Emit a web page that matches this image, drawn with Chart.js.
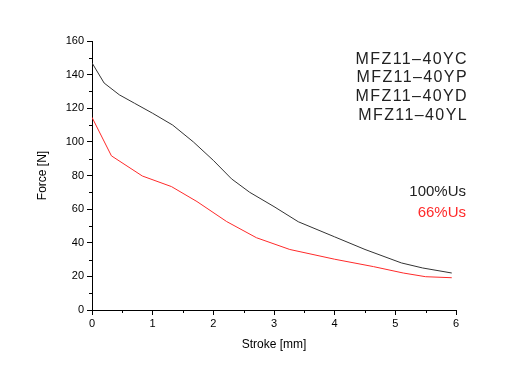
<!DOCTYPE html>
<html><head><meta charset="utf-8">
<script src="https://cdn.jsdelivr.net/npm/chart.js@4"></script>
<style>html,body{margin:0;padding:0;background:#fff}#wrap{width:518px;height:373px}</style>
</head><body><div id="wrap"><canvas id="c" width="518" height="373"></canvas></div>
<script>
const strokeFull = [0, 0.2, 0.45, 0.7, 1.0, 1.33, 1.67, 2.0, 2.3, 2.6, 3.0, 3.4, 4.0, 4.5, 5.1, 5.45, 5.93];
const forceFull  = [147, 135, 128, 123, 117, 110, 100, 89, 78, 70, 61.5, 52.5, 43.5, 36, 28, 25, 22];
const strokeLow  = [0, 0.32, 0.83, 1.31, 1.73, 2.22, 2.71, 3.26, 4.0, 4.64, 5.13, 5.5, 5.93];
const forceLow   = [114.6, 91.7, 79.7, 73.4, 64.5, 52.6, 43, 36, 30.2, 25.8, 22, 19.8, 19.2];
const modelLabels = ['MFZ11\u201340YC', 'MFZ11\u201340YP', 'MFZ11\u201340YD', 'MFZ11\u201340YL'];
const seriesLabels = ['100%Us', '66%Us'];
const xTitle = 'Stroke [mm]';
const yTitle = 'Force [N]';

const FONT = '"Liberation Sans", Arial, sans-serif';
const BLACK = '#333333', RED = '#ff2a2a';

const pts = (xs, ys) => xs.map((x, i) => ({x, y: ys[i]}));

const minorTicks = {
  id: 'minorTicks',
  afterDraw(chart) {
    const ctx = chart.ctx, xs = chart.scales.x, ys = chart.scales.y;
    ctx.save();
    ctx.strokeStyle = '#000'; ctx.lineWidth = 1;
    ctx.beginPath();
    for (let v = 10; v < 160; v += 20) {
      const p = Math.round(ys.getPixelForValue(v)) + 0.5;
      ctx.moveTo(xs.left - 3, p); ctx.lineTo(xs.left, p);
    }
    for (let v = 0.5; v < 6; v += 1) {
      const p = Math.round(xs.getPixelForValue(v)) + 0.5;
      ctx.moveTo(p, ys.bottom); ctx.lineTo(p, ys.bottom + 3);
    }
    ctx.stroke();
    ctx.textAlign = 'right'; ctx.textBaseline = 'alphabetic';
    ctx.font = '16px ' + FONT;
    try { ctx.letterSpacing = '1.4px'; } catch(e) {}
    ctx.fillStyle = '#222';
    const bl = [63.5, 82, 101, 120];
    modelLabels.forEach((t, i) => ctx.fillText(t, 468, bl[i]));
    try { ctx.letterSpacing = '0px'; } catch(e) {}
    ctx.font = '15px ' + FONT;
    ctx.fillStyle = '#222';
    ctx.fillText(seriesLabels[0], 466, 196);
    ctx.fillStyle = RED;
    ctx.fillText(seriesLabels[1], 466, 217);
    ctx.restore();
  }
};

new Chart(document.getElementById('c'), {
  type: 'scatter',
  data: {
    datasets: [
      {label: seriesLabels[0], data: pts(strokeFull, forceFull), showLine: true, borderColor: BLACK, borderWidth: 1, pointRadius: 0, tension: 0},
      {label: seriesLabels[1], data: pts(strokeLow, forceLow), showLine: true, borderColor: RED, borderWidth: 1, pointRadius: 0, tension: 0}
    ]
  },
  options: {
    responsive: false, animation: false,
    layout: {padding: {top: 41, right: 62, left: 0, bottom: 0}},
    plugins: {legend: {display: false}, tooltip: {enabled: false}},
    scales: {
      x: {
        type: 'linear', min: 0, max: 6,
        afterFit(s) { s.height = 63; },
        ticks: {stepSize: 1, color: '#000', font: {family: FONT, size: 11}, padding: 2, maxRotation: 0},
        grid: {drawOnChartArea: false, drawTicks: true, tickLength: 5, tickColor: '#000'},
        border: {color: '#000', width: 1},
        title: {display: true, text: xTitle, color: '#000', font: {family: FONT, size: 12}, padding: {top: 0, bottom: 21}}
      },
      y: {
        type: 'linear', min: 0, max: 160,
        afterFit(s) { s.width = 92; },
        ticks: {stepSize: 20, color: '#000', font: {family: FONT, size: 11}, padding: 3},
        grid: {drawOnChartArea: false, drawTicks: true, tickLength: 5, tickColor: '#000'},
        border: {color: '#000', width: 1},
        title: {display: true, text: yTitle, color: '#000', font: {family: FONT, size: 12}, padding: {top: 35, bottom: 0}}
      }
    }
  },
  plugins: [minorTicks]
});
</script></body></html>
